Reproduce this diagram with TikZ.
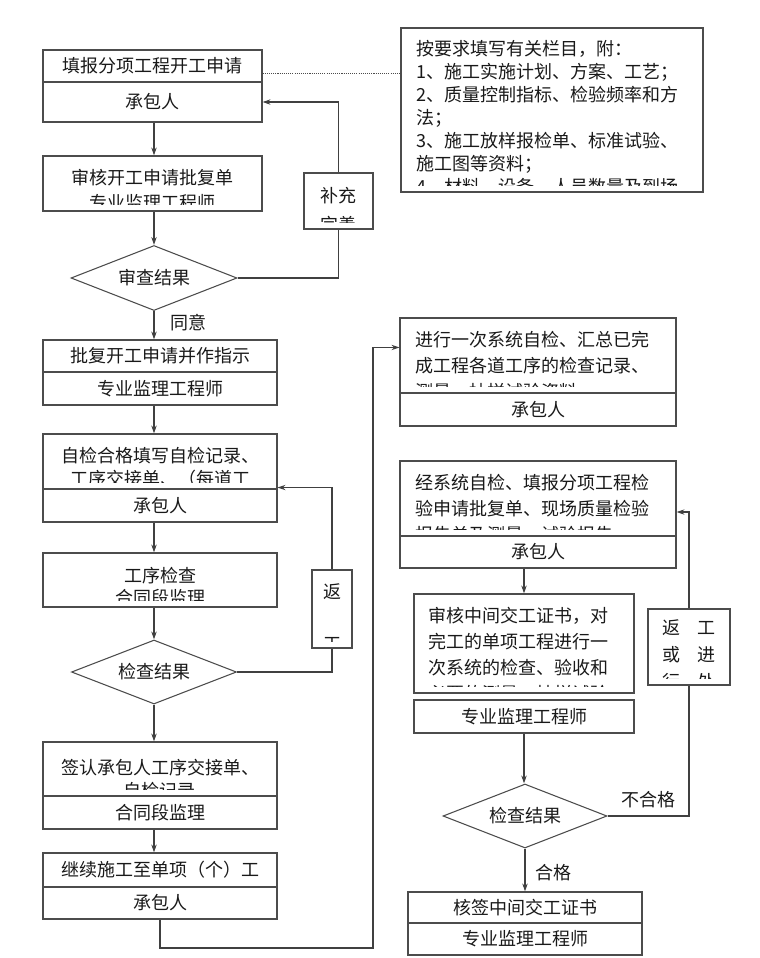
\documentclass[tikz,border=0pt]{standalone}
\usepackage{fontspec}
\setmainfont{Noto Sans CJK SC}
\usetikzlibrary{positioning,shapes.geometric,arrows.meta}
\tikzset{wh/.style 2 args={minimum width=#1*0.75pt, minimum height=#2*0.75pt}}
\tikzset{cell/.style={draw=black!70, line width=0.8pt, inner sep=0pt, font=\fontsize{13.5pt}{19.5pt}\selectfont, text=black!90}}
\tikzset{judge/.style={cell, diamond, aspect=2.5}}
\tikzset{txt/.style={inner sep=0pt, font=\fontsize{13.5pt}{#1}\selectfont, text=black!90}, txt/.default=19.5pt}
\tikzset{lbl/.style={inner sep=0pt, font=\fontsize{13.5pt}{16pt}\selectfont, text=black!90}}
\tikzset{link/.style={draw=black!75, line width=0.8pt}}
\tikzset{arr/.style={link, -{Stealth[length=6pt,width=4pt]}}}
\tikzset{dotlink/.style={draw=black!70, line width=0.6pt, dash pattern=on 0.8pt off 0.8pt}}
% text that runs past the bottom of its box is cut off there
\newcommand{\cliplines}[3]{%
  \begin{scope}
    \clip ([shift={(1,1)}]#1.north west) rectangle ([shift={(-1,-7)}]#1.south east);
    \node[#2] (#1-text) {#3};
  \end{scope}}

\begin{document}
\begin{tikzpicture}[x=0.75pt, y=-0.75pt]
\useasboundingbox (0,0) rectangle (760,958);
% left column: start-up application
\node[cell, wh={219}{32}] (fill1) at (152.5,66) {填报分项工程开工申请};
\node[cell, wh={219}{40}] (fill1b) at (152.5,102) {承包人};
\node[cell, wh={219}{55}] (review) at (152.5,183.5) {};
\cliplines{review}{txt=18.75pt, anchor=north, align=center, at={(152.5,169)}}{审核开工申请批复单\\专业监理工程师}
\node[judge, wh={166}{65}] (d1) at (154,278) {审查结果};
\node[cell, wh={69}{56}] (supp) at (338.5,201) {};
\cliplines{supp}{txt=21.75pt, anchor=north, align=center, at={(338.5,187)}}{补充\\完善}
\node[cell, wh={302}{164}] (info) at (552,110) {};
\cliplines{info}{txt=17.25pt, anchor=north west, align=left, at={(416,40.5)}}{按要求填写有关栏目，附：\\1、施工实施计划、方案、工艺；\\2、质量控制指标、检验频率和方\\法；\\3、施工放样报检单、标准试验、\\施工图等资料；\\4、材料、设备、人员数量及到场}
\coordinate (dotstart) at ([shift={(0,7)}]fill1.east);
\draw[dotlink] (dotstart) -- (dotstart -| info.west);

% left column: work procedure
\node[cell, wh={234}{32}] (approve) at (160,356) {批复开工申请并作指示};
\node[cell, wh={234}{33}] (approveb) at (160,388.5) {专业监理工程师};
\node[cell, wh={234}{55}] (selfchk) at (160,461.5) {};
\cliplines{selfchk}{txt=17.25pt, anchor=north, align=center, at={(160,446.5)}}{自检合格填写自检记录、\\工序交接单、（每道工}
\node[cell, wh={234}{33}] (selfchkb) at (160,505.5) {承包人};
\node[cell, wh={234}{54}] (procchk) at (160,580) {};
\cliplines{procchk}{txt=16.5pt, anchor=north, align=center, at={(160,566.5)}}{工序检查\\合同段监理}
\node[cell, wh={40}{78}] (back) at (332,609) {};
\cliplines{back}{txt=39pt, anchor=north, align=center, at={(332,583.5)}}{返\\工}
\node[judge, wh={165}{64}] (d2) at (154,672) {检查结果};
\node[cell, wh={234}{54}] (sign) at (160,769) {};
\cliplines{sign}{txt=17.25pt, anchor=north, align=center, at={(160,758.5)}}{签认承包人工序交接单、\\自检记录}
\node[cell, wh={234}{33}] (signb) at (160,812.5) {合同段监理};
\node[cell, wh={234}{34}] (cont) at (160,870) {继续施工至单项（个）工};
\node[cell, wh={234}{32}] (contb) at (160,903) {承包人};

% right column: hand-over check
\node[cell, wh={276}{75}] (sumup) at (538,355.5) {};
\cliplines{sumup}{txt, anchor=north west, align=left, at={(415,330.5)}}{进行一次系统自检、汇总已完\\成工程各道工序的检查记录、\\测量、抽样试验资料}
\node[cell, wh={276}{33}] (sumupb) at (538,409.5) {承包人};
\node[cell, wh={276}{75}] (apply) at (538,498.5) {};
\cliplines{apply}{txt, anchor=north west, align=left, at={(415,473.5)}}{经系统自检、填报分项工程检\\验申请批复单、现场质量检验\\报告单及测量、试验报告}
\node[cell, wh={276}{32}] (applyb) at (538,552) {承包人};
\node[cell, wh={220}{99}] (audit) at (524,643.5) {};
\cliplines{audit}{txt, anchor=north west, align=left, at={(428,606.5)}}{审核中间交工证书，对\\完工的单项工程进行一\\次系统的检查、验收和\\必要的测量、抽样试验}
\node[cell, wh={220}{33}] (auditor) at (524,716.5) {专业监理工程师};
\node[judge, wh={164}{64}] (d3) at (525,816) {检查结果};
\node[cell, wh={82}{76}] (rework) at (689,647) {};
\cliplines{rework}{txt=20.25pt, anchor=north, align=center, at={(689,619.5)}}{返\hspace{13pt}工\\或\hspace{13pt}进\\行\hspace{13pt}处}
\node[cell, wh={234}{31}] (sign2) at (525,907.5) {核签中间交工证书};
\node[cell, wh={234}{32}] (sign2b) at (525,939) {专业监理工程师};

% connectors
\draw[arr] (fill1b.south -| d1) -- (review.north -| d1);
\draw[arr] (review.south -| d1) -- (d1.north);
\draw[link] (d1.east) -| (supp.south);
\draw[arr] (supp.north) |- (fill1b.east);
\draw[arr] (d1.south) -- node[lbl, pos=0.4, anchor=west, xshift=12pt] (agree) {同意} (d1.south |- approve.north);
\draw[arr] (approveb.south -| d1) -- (selfchk.north -| d1);
\draw[arr] (selfchkb.south -| d1) -- (procchk.north -| d1);
\draw[arr] (procchk.south -| d2) -- (d2.north);
\draw[link] (d2.east) -| (back.south);
\draw[arr] (back.north) |- ([shift={(0,-2)}]selfchk.south east);
\draw[arr] (d2.south) -- (d2.south |- sign.north);
\draw[arr] (signb.south -| d2) -- (cont.north -| d2);
\coordinate (loop) at (373,948);
\draw[arr] (contb.south) |- (loop) |- ([shift={(0,30)}]sumup.north west);
\draw[arr] (applyb.south -| audit) -- (audit.north);
\draw[arr] (auditor.south) -- (auditor.south |- d3.north);
\draw[link] (d3.east) -| node[lbl, pos=0.25, anchor=south, yshift=6pt] (fail) {不合格} (rework.south);
\draw[arr] (rework.north) |- ([shift={(0,13.5)}]apply.east);
\draw[arr] (d3.south) -- node[lbl, pos=0.55, anchor=west, xshift=7.5pt] (pass) {合格} (sign2.north);
\end{tikzpicture}
\end{document}
